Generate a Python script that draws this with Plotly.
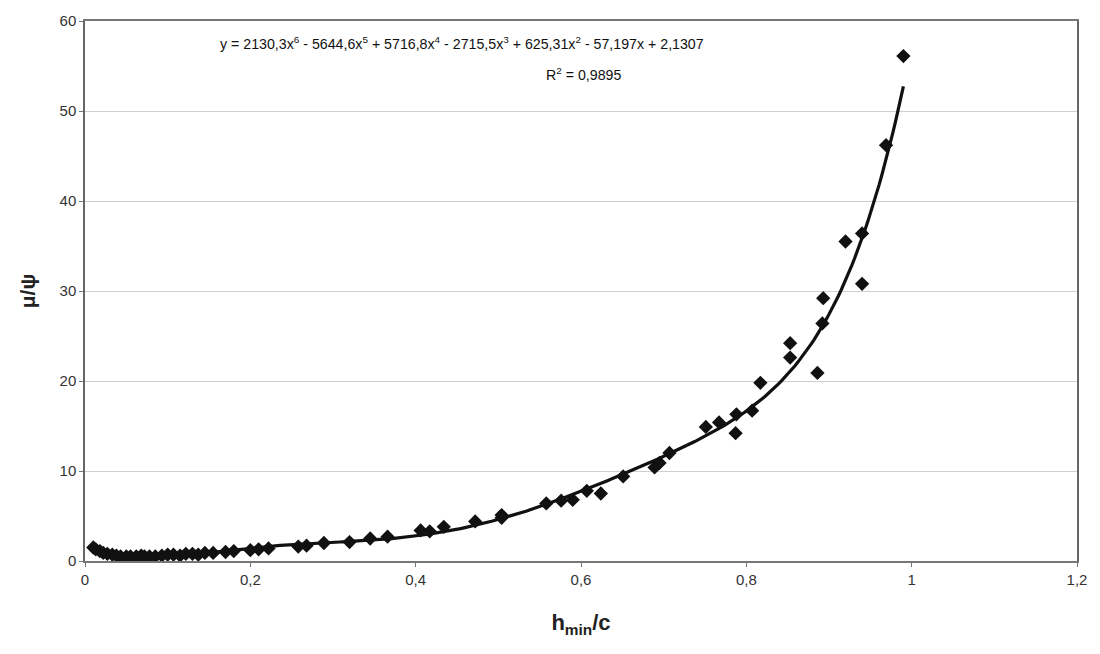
import plotly.graph_objects as go
import numpy as np

# measured data points (h_min/c, mu/psi)
x_data = [0.010, 0.013, 0.018, 0.022, 0.027, 0.033, 0.038, 0.043, 0.050, 0.055,
          0.062, 0.068, 0.072, 0.078, 0.085, 0.093, 0.100, 0.107, 0.115, 0.122,
          0.130, 0.137, 0.145, 0.155, 0.170, 0.180, 0.200, 0.210, 0.222, 0.258,
          0.268, 0.289, 0.320, 0.345, 0.366, 0.406, 0.417, 0.434, 0.472, 0.504,
          0.504, 0.558, 0.576, 0.590, 0.607, 0.624, 0.651, 0.689, 0.695, 0.707,
          0.751, 0.767, 0.787, 0.788, 0.807, 0.817, 0.853, 0.853, 0.886, 0.892,
          0.893, 0.920, 0.940, 0.940, 0.969, 0.990]
y_data = [1.5, 1.3, 1.1, 0.9, 0.8, 0.7, 0.6, 0.5, 0.5, 0.5,
          0.5, 0.6, 0.5, 0.5, 0.5, 0.6, 0.7, 0.7, 0.6, 0.8,
          0.8, 0.7, 0.9, 0.9, 1.0, 1.1, 1.2, 1.3, 1.4, 1.6,
          1.7, 2.0, 2.1, 2.5, 2.7, 3.4, 3.3, 3.8, 4.4, 5.1,
          4.8, 6.4, 6.7, 6.8, 7.8, 7.5, 9.4, 10.4, 10.9, 12.0,
          14.9, 15.4, 14.2, 16.3, 16.7, 19.8, 24.2, 22.6, 20.9, 26.4,
          29.2, 35.5, 36.4, 30.8, 46.2, 56.1]

# trendline coefficients as shown in the chart (highest power first)
coeffs = [2130.3, -5644.6, 5716.8, -2715.5, 625.31, -57.197, 2.1307]
equation_text = "y = 2130,3x<sup>6</sup> - 5644,6x<sup>5</sup> + 5716,8x<sup>4</sup> - 2715,5x<sup>3</sup> + 625,31x<sup>2</sup> - 57,197x + 2,1307"
r2_text = "R<sup>2</sup> = 0,9895"

x_ticks = [0, 0.2, 0.4, 0.6, 0.8, 1.0, 1.2]
y_ticks = [0, 10, 20, 30, 40, 50, 60]

xs = np.linspace(min(x_data), max(x_data), 300)
ys = np.polyval(coeffs, xs)

fig = go.Figure()
fig.add_trace(go.Scatter(x=xs, y=ys, mode="lines",
                         line=dict(color="#111111", width=3.2),
                         hoverinfo="skip", showlegend=False))
fig.add_trace(go.Scatter(x=x_data, y=y_data, mode="markers",
                         marker=dict(symbol="diamond", size=11, color="#111111"),
                         showlegend=False))

font_fam = "Liberation Sans, Arial, sans-serif"

# layout geometry (pixels)
L, R, T, B = 85, 23, 18, 93
W, H = 1100, 654
pw, ph = W - L - R, H - T - B

def px_x(p):
    return (p - L) / pw

def px_y(p):
    return 1 - (p - T) / ph

fig.add_annotation(x=px_x(462), y=px_y(40), xref="paper", yref="paper", text=equation_text,
                   xanchor="center", yanchor="middle",
                   showarrow=False, font=dict(family=font_fam, size=14.2, color="#111111"))
fig.add_annotation(x=px_x(583), y=px_y(71), xref="paper", yref="paper", text=r2_text,
                   xanchor="center", yanchor="middle",
                   showarrow=False, font=dict(family=font_fam, size=14.2, color="#111111"))

fig.update_layout(
    width=W, height=H,
    margin=dict(l=L, r=R, t=T, b=B),
    paper_bgcolor="white", plot_bgcolor="white",
    separators=", ",
    font=dict(family=font_fam, size=15, color="#333333"),
    xaxis=dict(range=[0, 1.2], tickvals=x_ticks, showgrid=False,
               showline=True, linecolor="#777777", linewidth=1.5, mirror=True,
               ticks="outside", ticklen=4, tickcolor="#777777", zeroline=False,
               title=dict(text="<b>h<sub>min</sub>/c</b>", font=dict(size=22, color="#222222"), standoff=28)),
    yaxis=dict(range=[0, 60], tickvals=y_ticks, showgrid=True, gridcolor="#cfcfcf", gridwidth=1,
               showline=True, linecolor="#666666", linewidth=1.5, mirror=True,
               ticks="outside", ticklen=4, tickcolor="#777777", zeroline=False,
               title=dict(text="<b>μ/ψ</b>", font=dict(size=21, color="#222222"), standoff=18)),
)

fig.write_html("out.html")
